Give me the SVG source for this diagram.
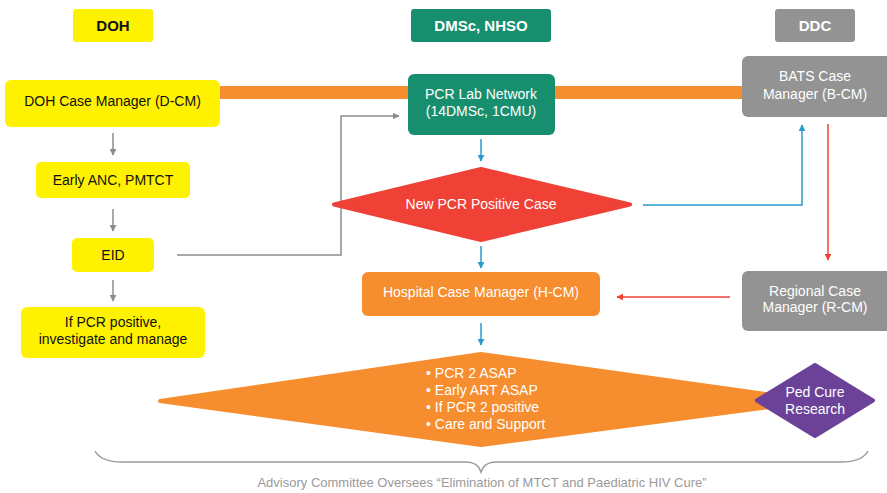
<svg xmlns="http://www.w3.org/2000/svg" width="887" height="493" viewBox="0 0 887 493">
<style>
text{font-family:"Liberation Sans",Arial,sans-serif;font-size:14px;text-anchor:middle}
.hd{font-size:15px;font-weight:bold}
.k{fill:#111}
.w{fill:#fff}
.y{fill:#FFF200}
.g{fill:#178F6E}
.gr{fill:#939393}
.o{fill:#F68D2E}
.gl{fill:none;stroke:#8c8c8c;stroke-width:1.5}
.bl{fill:none;stroke:#2A9BC9;stroke-width:1.5}
.rl{fill:none;stroke:#EF4136;stroke-width:1.5}
.bul{text-anchor:start;font-size:14px}
</style>
<defs>
<marker id="ag" viewBox="0 0 10 10" refX="9" refY="5" markerWidth="7" markerHeight="7" markerUnits="userSpaceOnUse" orient="auto"><path d="M0,0L10,5L0,10z" fill="#8c8c8c"/></marker>
<marker id="ab" viewBox="0 0 10 10" refX="9" refY="5" markerWidth="7" markerHeight="7" markerUnits="userSpaceOnUse" orient="auto"><path d="M0,0L10,5L0,10z" fill="#2A9BC9"/></marker>
<marker id="ar" viewBox="0 0 10 10" refX="9" refY="5" markerWidth="7" markerHeight="7" markerUnits="userSpaceOnUse" orient="auto"><path d="M0,0L10,5L0,10z" fill="#EF4136"/></marker>
</defs>

<g id="connectors">
<rect x="218" y="86" width="192" height="13" fill="#F68D2E"/>
<rect x="553" y="86" width="191" height="13" fill="#F68D2E"/>
<line class="gl" x1="113" y1="133" x2="113" y2="155" marker-end="url(#ag)"/>
<line class="gl" x1="113" y1="209" x2="113" y2="231" marker-end="url(#ag)"/>
<line class="gl" x1="113" y1="280" x2="113" y2="301" marker-end="url(#ag)"/>
<polyline class="gl" points="177,255 341,255 341,116 399,116" marker-end="url(#ag)"/>
<line class="bl" x1="481" y1="139" x2="481" y2="161" marker-end="url(#ab)"/>
<polyline class="bl" points="643,205 802,205 802,125" marker-end="url(#ab)"/>
<line class="rl" x1="828" y1="124" x2="828" y2="260" marker-end="url(#ar)"/>
<line class="bl" x1="481" y1="246" x2="481" y2="268" marker-end="url(#ab)"/>
<line class="rl" x1="730" y1="297" x2="617" y2="297" marker-end="url(#ar)"/>
<line class="bl" x1="481" y1="323" x2="481" y2="345" marker-end="url(#ab)"/>
</g>

<g id="hdr-doh"><rect class="y" x="73" y="9" width="80" height="33" rx="3"/><text class="hd k" x="113" y="31">DOH</text></g>
<g id="hdr-dmsc"><rect class="g" x="411" y="9" width="140" height="33" rx="3"/><text class="hd w" x="481" y="31">DMSc, NHSO</text></g>
<g id="hdr-ddc"><rect class="gr" x="775" y="9" width="80" height="33" rx="3"/><text class="hd w" x="815" y="31">DDC</text></g>

<g id="dcm"><rect class="y" x="5" y="80" width="215" height="47" rx="6"/><text class="k" x="112.5" y="106">DOH Case Manager (D-CM)</text></g>
<g id="pcrlab"><rect class="g" x="408" y="74" width="147" height="61" rx="6"/><text class="w" x="481" y="99">PCR Lab Network</text><text class="w" x="481" y="116">(14DMSc, 1CMU)</text></g>
<g id="bcm"><rect class="gr" x="742" y="56" width="150" height="61" rx="6"/><text class="w" x="815" y="81">BATS Case</text><text class="w" x="815" y="99">Manager (B-CM)</text></g>
<g id="anc"><rect class="y" x="36" y="162" width="154" height="36" rx="5"/><text class="k" x="113" y="185">Early ANC, PMTCT</text></g>
<g id="eid"><rect class="y" x="72" y="238" width="82" height="34" rx="5"/><text class="k" x="113" y="260">EID</text></g>
<g id="ifpcr"><rect class="y" x="21" y="307" width="184" height="51" rx="6"/><text class="k" x="113" y="327">If PCR positive,</text><text class="k" x="113" y="344">investigate and manage</text></g>

<g id="newpcr"><polygon points="334,204.5 481,169 630,204.5 481,240" fill="#EF4136" stroke="#EF4136" stroke-width="4" stroke-linejoin="round"/><text class="w" x="481" y="209">New PCR Positive Case</text></g>

<g id="hcm"><rect class="o" x="362" y="272" width="238" height="44" rx="6"/><text class="w" x="481" y="297">Hospital Case Manager (H-CM)</text></g>
<g id="rcm"><rect class="gr" x="742" y="271" width="150" height="60" rx="6"/><text class="w" x="815" y="296">Regional Case</text><text class="w" x="815" y="312">Manager (R-CM)</text></g>

<g id="care"><polygon points="160,401 481,354 815,401 481,445" fill="#F68D2E" stroke="#F68D2E" stroke-width="4" stroke-linejoin="round"/>
<text class="w bul" x="426" y="378">• PCR 2 ASAP</text>
<text class="w bul" x="426" y="395">• Early ART ASAP</text>
<text class="w bul" x="426" y="412">• If PCR 2 positive</text>
<text class="w bul" x="426" y="429">• Care and Support</text></g>

<g id="pedcure"><polygon points="757,400.5 815,365 873,400.5 815,436" fill="#6C4299" stroke="#6C4299" stroke-width="4" stroke-linejoin="round"/><text class="w" x="815" y="397">Ped Cure</text><text class="w" x="815" y="414">Research</text></g>

<g id="advisory"><path d="M95,451 Q101,462 122,462 L466,462 Q478,462 481,472 Q484,462 496,462 L841,462 Q862,462 868,451" fill="none" stroke="#9a9a9a" stroke-width="1.5"/>
<text x="482" y="487" style="font-size:13px;fill:#9a9a9a">Advisory Committee Oversees “Elimination of MTCT and Paediatric HIV Cure”</text></g>
</svg>
